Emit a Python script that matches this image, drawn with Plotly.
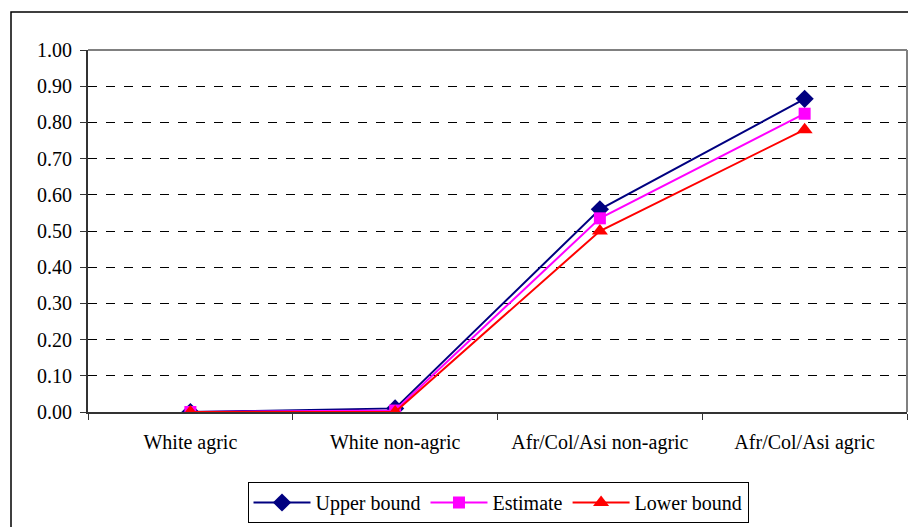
import plotly.graph_objects as go

categories = ["White agric", "White non-agric", "Afr/Col/Asi non-agric", "Afr/Col/Asi agric"]
upper = [0.0, 0.01, 0.56, 0.865]
estimate = [0.0, 0.004, 0.535, 0.824]
lower = [0.0, 0.0, 0.50, 0.78]
y_ticks = [0, 0.1, 0.2, 0.3, 0.4, 0.5, 0.6, 0.7, 0.8, 0.9, 1.0]

OFF = 8  # page body margin
W, H = 916 - OFF, 527 - OFF
L, R, T = 88 - OFF, 9, 50 - OFF
B = H - (412 - OFF)
pw, ph = W - L - R, H - T - B

def px_x(x):
    return (x - OFF - L) / pw

def px_y(y):
    return (H - B - (y - OFF)) / ph

FAM = "Liberation Serif"
FS = 20

fig = go.Figure()
fig.add_trace(go.Scatter(x=categories, y=upper, name="Upper bound", mode="lines+markers",
                         line=dict(color="#000080", width=2),
                         marker=dict(symbol="diamond", size=14, color="#000080")))
fig.add_trace(go.Scatter(x=categories, y=estimate, name="Estimate", mode="lines+markers",
                         line=dict(color="#FF00FF", width=2),
                         marker=dict(symbol="square", size=12, color="#FF00FF")))
fig.add_trace(go.Scatter(x=categories, y=lower, name="Lower bound", mode="lines+markers",
                         line=dict(color="#FF0000", width=2),
                         marker=dict(symbol="triangle-up", size=14, color="#FF0000")))

fig.update_layout(
    width=W, height=H,
    margin=dict(l=L, r=R, t=T, b=B),
    paper_bgcolor="white", plot_bgcolor="white",
    font=dict(family=FAM, size=FS, color="black"),
    showlegend=True,
    legend=dict(orientation="h", xref="container", yref="container",
                x=(498 - OFF) / W, xanchor="center", y=(H - (482 - OFF)) / H, yanchor="top",
                bordercolor="black", borderwidth=1,
                font=dict(family=FAM, size=FS, color="black"),
                itemsizing="trace", itemwidth=57, tracegroupgap=0),
    xaxis=dict(type="category", range=[-0.5, 3.5], showline=True, linecolor="#333333", linewidth=2,
               ticks="outside", tickson="boundaries", ticklen=6, tickcolor="#333333",
               ticklabelstandoff=11,
               showgrid=False, tickfont=dict(family=FAM, size=FS, color="black"), automargin=False),
    yaxis=dict(range=[0, 1], tickvals=y_ticks, tickformat=".2f", showline=True, linecolor="#333333",
               linewidth=2, ticks="outside", ticklen=6, tickcolor="#333333",
               ticklabelstandoff=4,
               showgrid=True, gridcolor="black", griddash="dash", gridwidth=1,
               zeroline=False, tickfont=dict(family=FAM, size=FS, color="black"), automargin=False),
    shapes=[
        dict(type="line", xref="paper", yref="paper", x0=0, x1=1, y0=1, y1=1,
             line=dict(color="#808080", width=2)),
        dict(type="line", xref="paper", yref="paper", x0=1, x1=1, y0=0, y1=1,
             line=dict(color="#808080", width=2)),
        dict(type="rect", xref="paper", yref="paper", x0=px_x(11), x1=px_x(930), y0=px_y(540), y1=px_y(12),
             line=dict(color="black", width=1.5), layer="below"),
    ],
)

fig.write_html("out.html")
